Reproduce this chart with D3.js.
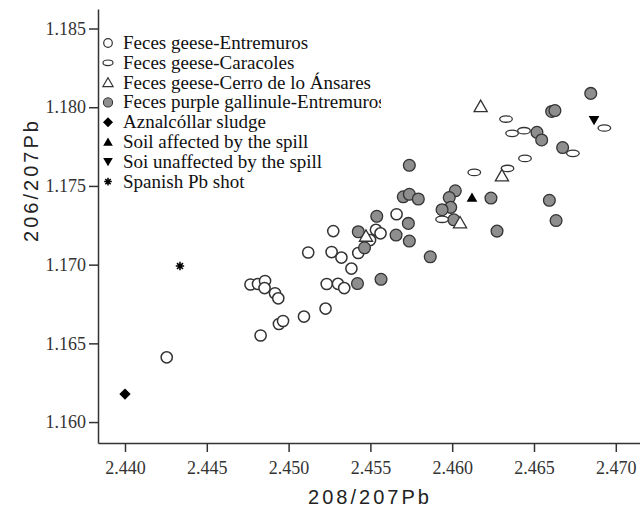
<!DOCTYPE html>
<html><head><meta charset="utf-8">
<script src="https://cdn.jsdelivr.net/npm/d3@7"></script>
<style>body{margin:0;background:#fff}svg{display:block}</style>
</head><body><svg id="c" width="640" height="509"></svg>
<script>
// ---- data (208/207Pb, 206/207Pb) ----
const geeseEntremuros = [
 [2.44255,1.16411],[2.44829,1.16550],[2.44941,1.16623],[2.44966,1.16642],[2.45094,1.16670],
 [2.45226,1.16721],[2.44767,1.16874],[2.44813,1.16877],[2.44856,1.16896],[2.44853,1.16851],
 [2.44917,1.16818],[2.44937,1.16786],[2.45233,1.16877],[2.45302,1.16878],[2.45340,1.16851],
 [2.45120,1.17077],[2.45263,1.17080],[2.45323,1.17045],[2.45384,1.16975],[2.45426,1.17074],
 [2.45273,1.17213],[2.45534,1.17221],[2.45562,1.17199],[2.45498,1.17156],[2.45660,1.17320]
];
const geeseCaracoles = [
 [2.46329,1.17925],[2.46366,1.17834],[2.46439,1.17851],[2.46930,1.17868],[2.46738,1.17707],
 [2.46445,1.17675],[2.46135,1.17586],[2.46338,1.17611],[2.45938,1.17288]
];
const geeseCerro = [
 [2.46174,1.18003],[2.46304,1.17563],[2.46048,1.17264],[2.45473,1.17179]
];
const gallinuleEntremuros = [
 [2.46847,1.18088],[2.46608,1.17973],[2.46628,1.17979],[2.46518,1.17841],[2.46547,1.17792],
 [2.46675,1.17744],[2.45738,1.17631],[2.45701,1.17431],[2.45738,1.17447],[2.45793,1.17417],
 [2.46019,1.17469],[2.45982,1.17426],[2.46237,1.17423],[2.46594,1.17409],[2.45991,1.17364],
 [2.45938,1.17349],[2.46010,1.17285],[2.46635,1.17280],[2.45539,1.17307],[2.45732,1.17262],
 [2.46274,1.17213],[2.45657,1.17188],[2.45738,1.17150],[2.45426,1.17209],[2.45464,1.17107],
 [2.45866,1.17050],[2.45421,1.16880],[2.45565,1.16907]
];
const sludge = [[2.44000,1.16178]];
const soilAffected = [[2.46121,1.17426]];
const soilUnaffected = [[2.46867,1.17919]];
const pbShot = [[2.44336,1.16991]];

const xTicks = [2.440,2.445,2.450,2.455,2.460,2.465,2.470];
const yTicks = [1.160,1.165,1.170,1.175,1.180,1.185];
const legendLabels = [
 "Feces geese-Entremuros","Feces geese-Caracoles","Feces geese-Cerro de lo Ánsares",
 "Feces purple gallinule-Entremuros","Aznalcóllar sludge","Soil affected by the spill",
 "Soi unaffected by the spill","Spanish Pb shot"
];

// ---- layout ----
const W=640,H=509, m={l:98,r:0,t:9,b:66};
const svg=d3.select("#c");
const x=d3.scaleLinear().domain([2.43835,2.47148]).range([m.l,W-m.r]);
const y=d3.scaleLinear().domain([1.15867,1.18624]).range([H-m.b,m.t]);
const ink="#333", gray="#8e8e8e";

const serif="'Liberation Serif','Times New Roman',serif";
const sans="'Liberation Sans',Arial,sans-serif";

const gx=svg.append("g").attr("transform",`translate(0,${H-m.b})`)
 .call(d3.axisBottom(x).tickValues(xTicks).tickFormat(d3.format(".3f")).tickSize(9).tickSizeOuter(0).tickPadding(9));
const gy=svg.append("g").attr("transform",`translate(${m.l},0)`)
 .call(d3.axisLeft(y).tickValues(yTicks).tickFormat(d3.format(".3f")).tickSize(9).tickSizeOuter(0).tickPadding(3));
[gx,gy].forEach(g=>{
 g.selectAll("path,line").attr("stroke",ink).attr("stroke-width",1.5);
 g.selectAll("text").attr("font-family",serif).attr("font-size",18).attr("fill",ink);
});

svg.append("text").attr("x",370).attr("y",504).attr("text-anchor","middle")
 .attr("font-family",sans).attr("font-size",20).attr("letter-spacing",3).attr("fill","#222").text("208/207Pb");
svg.append("text").attr("transform","translate(38,180) rotate(-90)").attr("text-anchor","middle")
 .attr("font-family",sans).attr("font-size",20).attr("letter-spacing",3).attr("fill","#222").text("206/207Pb");

// ---- marks ----
const sym=(type,size)=>d3.symbol().type(type).size(size)();
const starPath=(r)=>{let p="";for(let i=0;i<4;i++){const a=i*Math.PI/4;p+=`M${-r*Math.cos(a)},${-r*Math.sin(a)}L${r*Math.cos(a)},${r*Math.sin(a)}`;}return p;};

const pg=svg.append("g");
pg.selectAll(".oc").data(geeseEntremuros).join("circle")
 .attr("cx",d=>x(d[0])).attr("cy",d=>y(d[1])).attr("r",5.6)
 .attr("fill","#fff").attr("stroke",ink).attr("stroke-width",1.5);
pg.selectAll(".gc").data(gallinuleEntremuros).join("circle")
 .attr("cx",d=>x(d[0])).attr("cy",d=>y(d[1])).attr("r",5.9)
 .attr("fill",gray).attr("stroke",ink).attr("stroke-width",1.3);
pg.selectAll(".el").data(geeseCaracoles).join("ellipse")
 .attr("cx",d=>x(d[0])).attr("cy",d=>y(d[1])).attr("rx",6.3).attr("ry",3.2)
 .attr("fill","#fff").attr("stroke",ink).attr("stroke-width",1.3);
pg.selectAll(".tr").data(geeseCerro).join("path")
 .attr("transform",d=>`translate(${x(d[0])},${y(d[1])+1})`).attr("d",sym(d3.symbolTriangle,75))
 .attr("fill","#fff").attr("stroke",ink).attr("stroke-width",1.3);
pg.selectAll(".sl").data(sludge).join("path")
 .attr("transform",d=>`translate(${x(d[0])},${y(d[1])}) rotate(45)`).attr("d",sym(d3.symbolSquare,64))
 .attr("fill","#000");
pg.selectAll(".sa").data(soilAffected).join("path")
 .attr("transform",d=>`translate(${x(d[0])},${y(d[1])+1})`).attr("d",sym(d3.symbolTriangle,50))
 .attr("fill","#000");
pg.selectAll(".su").data(soilUnaffected).join("path")
 .attr("transform",d=>`translate(${x(d[0])},${y(d[1])-1}) rotate(180)`).attr("d",sym(d3.symbolTriangle,50))
 .attr("fill","#000");
pg.selectAll(".st").data(pbShot).join("path")
 .attr("transform",d=>`translate(${x(d[0])},${y(d[1])})`).attr("d",starPath(4.2))
 .attr("stroke","#000").attr("stroke-width",1.6);

// ---- legend ----
svg.append("clipPath").attr("id","lc").append("rect").attr("x",0).attr("y",0).attr("width",381).attr("height",509);
const lg=svg.append("g");
const ly0=43, ldy=19.8, lsx=108;
const lsyms=[
 g=>g.append("circle").attr("r",4.3).attr("fill","#fff").attr("stroke",ink).attr("stroke-width",1.2),
 g=>g.append("ellipse").attr("rx",5).attr("ry",2.8).attr("fill","#fff").attr("stroke",ink).attr("stroke-width",1.2),
 g=>g.append("path").attr("d",sym(d3.symbolTriangle,45)).attr("transform","translate(0,1)").attr("fill","#fff").attr("stroke",ink).attr("stroke-width",1.2),
 g=>g.append("circle").attr("r",4.6).attr("fill",gray).attr("stroke",ink).attr("stroke-width",1.1),
 g=>g.append("path").attr("d",sym(d3.symbolSquare,50)).attr("transform","rotate(45)").attr("fill","#000"),
 g=>g.append("path").attr("d",sym(d3.symbolTriangle,40)).attr("transform","translate(0,1)").attr("fill","#000"),
 g=>g.append("path").attr("d",sym(d3.symbolTriangle,40)).attr("transform","translate(0,-1) rotate(180)").attr("fill","#000"),
 g=>g.append("path").attr("d",starPath(3.8)).attr("stroke","#000").attr("stroke-width",1.5)
];
legendLabels.forEach((t,i)=>{
 const yy=ly0+i*ldy;
 const g=lg.append("g").attr("transform",`translate(${lsx},${yy})`);
 lsyms[i](g);
 lg.append("text").attr("x",123).attr("y",yy+6).attr("clip-path","url(#lc)")
  .attr("font-family",serif).attr("font-size",19).attr("fill","#111").text(t);
});
</script></body></html>
